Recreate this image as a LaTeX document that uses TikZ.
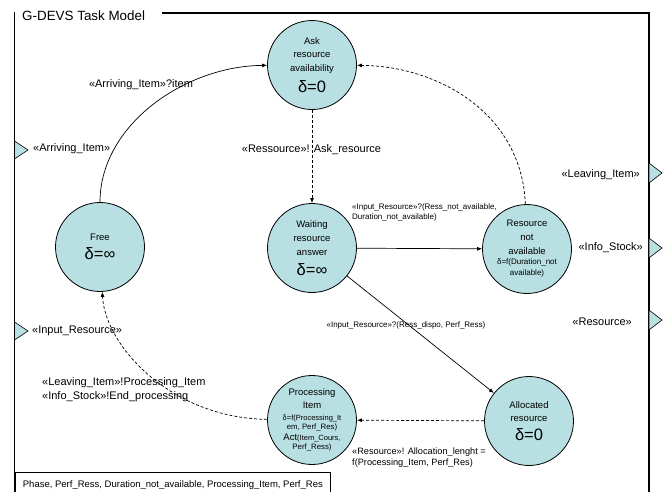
\documentclass[tikz,border=0pt]{standalone}
\usepackage{fontspec}
\setmainfont{Liberation Sans}
\usetikzlibrary{arrows.meta}
\definecolor{stfill}{RGB}{184,224,227}
\newcommand\fA{\fontsize{9.5}{13}\selectfont}
\newcommand\fD{\fontsize{16.5}{19}\selectfont}
\newcommand\fS{\fontsize{7.5}{10}\selectfont}
\newcommand\fR{\fontsize{8}{10}\selectfont}
\newcommand\fM{\fontsize{7.8}{10}\selectfont}
\begin{document}
\begin{tikzpicture}[x=1pt,y=-1pt,
  state/.style={circle,draw,line width=0.8pt,fill=stfill,minimum size=89pt,inner sep=0pt,align=center,font=\fA},
  trans/.style={line width=0.7pt,-{Latex[length=5pt,width=4pt]}},
  transd/.style={trans,dash pattern=on 3pt off 2pt},
  lbl/.style={font=\fontsize{11}{14}\selectfont,inner sep=0pt},
  slbl/.style={font=\fontsize{8}{10}\selectfont,inner sep=0pt},
  mlbl/.style={font=\fontsize{9.2}{11}\selectfont,inner sep=0pt},
  port/.style={draw,line width=0.6pt,fill=stfill},
  frame/.style={line width=1.6pt}]

\useasboundingbox (0,0) rectangle (667,491);

% frame
\draw[frame] (162,13) -- (649,13) -- (649,492);
\draw[frame] (14.5,12) -- (14.5,492);
\node[anchor=west,font=\fontsize{13.4}{15}\selectfont,inner sep=0pt] (title) at (22,16) {G-DEVS Task Model};

% ports
\draw[port] (14.5,141) -- (28,150) -- (14.5,159) -- cycle;
\draw[port] (14.5,322) -- (28,331) -- (14.5,340) -- cycle;
\draw[port] (649,163) -- (662,173) -- (649,183) -- cycle;
\draw[port] (649,238) -- (662,248) -- (649,258) -- cycle;
\draw[port] (649,310) -- (662,320) -- (649,330) -- cycle;
\node[lbl,anchor=west] (parr) at (33,149) {«Arriving\_Item»};
\node[lbl,anchor=west] (pinr) at (32,331) {«Input\_Resource»};
\node[lbl,anchor=east] (pleave) at (640,175) {«Leaving\_Item»};
\node[lbl,anchor=east] (pinfo) at (643,248) {«Info\_Stock»};
\node[lbl,anchor=east] (pres) at (632,322) {«Resource»};

% states
\node[state] (ask) at (312,65) {Ask\\resource\\[1pt]availability\\[6.5pt]\fD δ=0};
\node[state] (free) at (100,247) {Free\\[6.5pt]\fD δ=∞};
\node[state] (wait) at (312,248) {Waiting\\[1pt]resource\\[1pt]answer\\[6.5pt]\fD δ=∞};
\node[state] (rna) at (527,249) {Resource\\[1pt]not\\[1pt]available\\[-3pt]\fR δ=f(Duration\_not\\[-2pt]\fR available)};
\node[state] (proc) at (312,420) {Processing\\Item\\[-1pt]\fS δ=f(Processing\_It\\[-3.5pt]\fM em, Perf\_Res)\\[-2pt]Act\fS(Item\_Cours,\\[-4pt]\fM Perf\_Ress)};
\node[state] (alloc) at (529,421) {Allocated\\resource\\[6.5pt]\fD δ=0};

% transitions
\draw[trans] (free) .. controls (100,125) and (185,66) .. (ask);
\node[lbl] (lArr) at (141,85) {«Arriving\_Item»?item};

\draw[transd] (ask) -- (wait);
\node[lbl] (lAsk) at (311.5,150) {«Ressource»! Ask\_resource};

\draw[trans] (wait) -- (rna);
\node[slbl,anchor=west,align=left] (lNot) at (352,212) {«Input\_Resource»?(Ress\_not\_available,\\Duration\_not\_available)};

\draw[transd] (rna) .. controls (522,115) and (440,66) .. (ask);

\draw[trans] (wait) -- (alloc);
\node[slbl] (lDispo) at (406,325) {«Input\_Resource»?(Ress\_dispo, Perf\_Ress)};

\draw[transd] (alloc) -- (proc);
\node[mlbl,anchor=west,align=left] (lAlloc) at (352,457.5) {«Resource»! Allocation\_lenght =\\f(Processing\_Item, Perf\_Res)};

\draw[transd] (proc) .. controls (170,418) and (105,345) .. (free);
\node[lbl,anchor=west,align=left] (lLeave) at (42,390) {«Leaving\_Item»!Processing\_Item\\«Info\_Stock»!End\_processing};

% state variables box
\node[draw,line width=0.8pt,anchor=north west,minimum height=26pt,inner xsep=8pt,inner ysep=0pt,
      font=\fontsize{9.5}{11}\selectfont] (vars) at (14.5,472) {Phase, Perf\_Ress, Duration\_not\_available, Processing\_Item, Perf\_Res};
\end{tikzpicture}
\end{document}
